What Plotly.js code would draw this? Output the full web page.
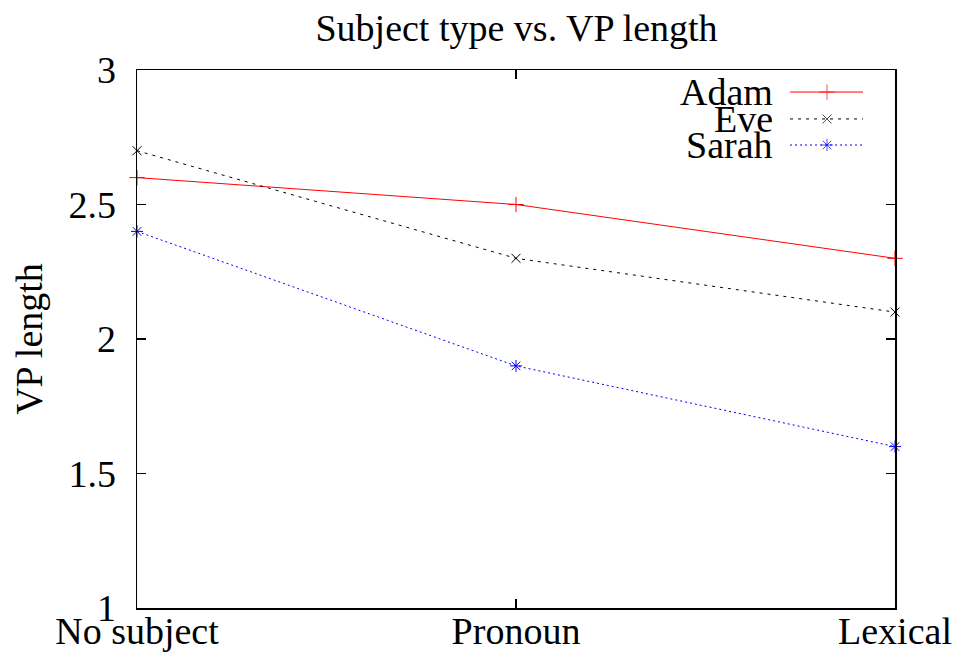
<!DOCTYPE html>
<html>
<head>
<meta charset="utf-8">
<script src="https://cdn.plot.ly/plotly-3.0.1.min.js"></script>
<style>html,body{margin:0;padding:0;background:#fff;}#chart{width:953px;height:652px;}</style>
</head>
<body>
<div id="chart"></div>
<script>
const categories = ["No subject", "Pronoun", "Lexical"];
const adam = [2.6, 2.5, 2.3];
const eve = [2.7, 2.3, 2.1];
const sarah = [2.4, 1.9, 1.6];
const yTicks = [1, 1.5, 2, 2.5, 3];
const seriesNames = ["Adam", "Eve", "Sarah"];

const FONT = "Liberation Serif, DejaVu Serif, serif";
const FS = 38;
const styles = [
  {color: "#ff0000", dash: "solid", symbol: "cross-thin", size: 11},
  {color: "#000000", dash: "3px,5px", symbol: "x-thin", size: 9},
  {color: "#0000ff", dash: "2px,3px", symbol: "asterisk-open", size: 10}
];
const seriesData = [adam, eve, sarah];

const traces = seriesData.map((vals, i) => ({
  type: "scatter", mode: "lines+markers", name: seriesNames[i],
  x: categories, y: vals, cliponaxis: false, showlegend: false,
  line: {color: styles[i].color, width: 1, dash: styles[i].dash},
  marker: {symbol: styles[i].symbol, size: styles[i].size, color: styles[i].color,
           line: {color: styles[i].color, width: 1}}
}));

// custom gnuplot-style legend (text on left, sample on right)
const legX = [0.8615, 0.9103, 0.9578];
const legY = [0.959, 0.909, 0.8606];
const annotations = [];
seriesNames.forEach((n, i) => {
  traces.push({
    type: "scatter", mode: "lines+markers", xaxis: "x2", yaxis: "y2",
    x: legX, y: [legY[i], legY[i], legY[i]], showlegend: false, hoverinfo: "skip",
    line: {color: styles[i].color, width: 1, dash: styles[i].dash},
    marker: {symbol: styles[i].symbol, size: [0, styles[i].size, 0], color: styles[i].color,
             line: {color: styles[i].color, width: 1}}
  });
  annotations.push({
    xref: "paper", yref: "paper", x: 0.8417, y: legY[i], xanchor: "right", yanchor: "middle",
    text: n, showarrow: false, font: {family: FONT, size: FS, color: "#000"}
  });
});

const layout = {
  width: 953, height: 652,
  margin: {l: 137, r: 58, t: 70, b: 44, pad: 0},
  paper_bgcolor: "#fff", plot_bgcolor: "#fff",
  font: {family: FONT, size: FS, color: "#000"},
  title: {text: "Subject type vs. VP length", font: {family: FONT, size: FS, color: "#000"},
          x: 0.542, xanchor: "center", y: 0.957, yanchor: "middle"},
  showlegend: false,
  xaxis: {type: "category", range: [0, 2], showgrid: false, zeroline: false,
          showline: true, linecolor: "#000", linewidth: 1.5, mirror: "ticks",
          ticks: "inside", ticklen: 9, tickcolor: "#000", tickwidth: 1.5,
          tickfont: {family: FONT, size: FS, color: "#000"}, ticklabelstandoff: -11},
  yaxis: {range: [1, 3], tickvals: yTicks, ticktext: yTicks.map(String), showgrid: false, zeroline: false,
          showline: true, linecolor: "#000", linewidth: 1.5, mirror: "ticks",
          ticks: "inside", ticklen: 9, tickcolor: "#000", tickwidth: 1.5,
          tickfont: {family: FONT, size: FS, color: "#000"}, ticklabelstandoff: 12,
          title: {text: "VP length", font: {family: FONT, size: FS, color: "#000"}, standoff: 14}},
  xaxis2: {overlaying: "x", range: [0, 1], visible: false, fixedrange: true},
  yaxis2: {overlaying: "y", range: [0, 1], visible: false, fixedrange: true},
  annotations: annotations
};

Plotly.newPlot("chart", traces, layout, {displayModeBar: false, staticPlot: true});
</script>
</body>
</html>
